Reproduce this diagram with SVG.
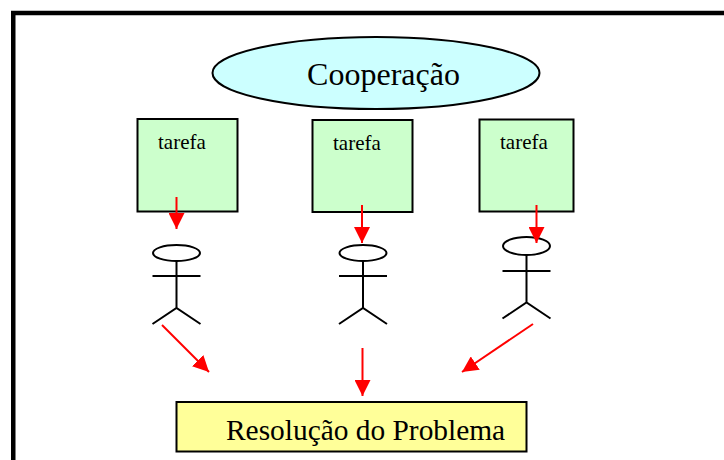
<svg xmlns="http://www.w3.org/2000/svg" width="724" height="460" viewBox="0 0 724 460">
<style>
text{font-family:"Liberation Serif","Times New Roman",serif;fill:#000}
.k{fill:none;stroke:#000;stroke-width:2}
.box{stroke:#000;stroke-width:2}
.t{fill:#ccffcc}
.r{fill:none;stroke:#ff0000;stroke-width:2}
.tx{font-size:21px}
</style>
<defs>
<marker id="a" markerUnits="userSpaceOnUse" markerWidth="16" markerHeight="16" refX="16" refY="8" orient="auto"><path d="M0 0L16 8L0 16Z" fill="#ff0000"/></marker>
<g id="actor"><ellipse class="k" cx="0" cy="0" rx="23.500" ry="8"/><path class="k" d="M0 8V55M-24 23H24M-24 71L0 55L24 71"/></g>
</defs>
<rect width="724" height="460" fill="#fff"/>
<path d="M13.250 460V13H724" fill="none" stroke="#000" stroke-width="4.500"/>
<g id="cooperacao"><ellipse cx="376" cy="73" rx="163.500" ry="36" fill="#ccffff" stroke="#000" stroke-width="2"/><text x="383.500" y="85" font-size="32" text-anchor="middle">Cooperação</text></g>
<g id="tarefa1"><rect class="box t" x="137.500" y="119" width="100" height="92.500"/><text class="tx" x="158" y="149">tarefa</text></g>
<g id="tarefa2"><rect class="box t" x="312.500" y="120" width="100" height="92"/><text class="tx" x="333" y="150">tarefa</text></g>
<g id="tarefa3"><rect class="box t" x="479.500" y="119.500" width="94" height="92"/><text class="tx" x="500" y="149">tarefa</text></g>
<g id="ator1"><use href="#actor" x="176.500" y="253"/></g>
<g id="ator2"><use href="#actor" x="363" y="253"/></g>
<g id="ator3"><ellipse class="k" cx="526.500" cy="246" rx="23.500" ry="9"/><path class="k" d="M526.500 255V302.500M502.500 271H550.500M502.500 318.500L526.500 302.500L550.500 318.500"/></g>
<g id="resolucao"><rect class="box" x="176.500" y="402" width="350" height="49.500" fill="#ffff99"/><text x="226" y="440" font-size="29.400">Resolução do Problema</text></g>
<g id="connectors">
<path class="r" marker-end="url(#a)" d="M176.500 197V229"/>
<path class="r" marker-end="url(#a)" d="M362 205V243"/>
<path class="r" marker-end="url(#a)" d="M536.500 205V243"/>
<path class="r" marker-end="url(#a)" d="M162 325L209 372"/>
<path class="r" marker-end="url(#a)" d="M362.500 348V396"/>
<path class="r" marker-end="url(#a)" d="M533 324L462 372"/>
</g>
</svg>
